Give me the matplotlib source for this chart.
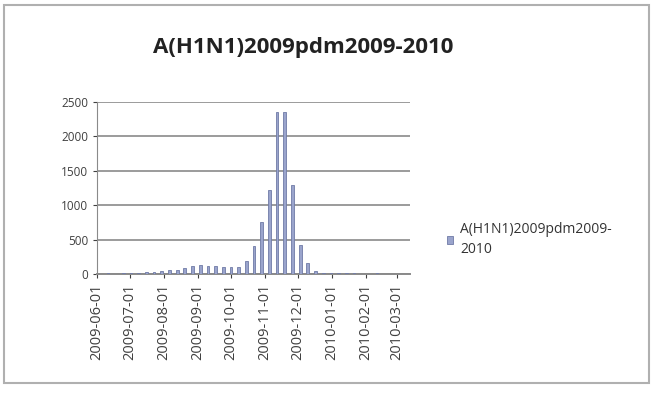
import matplotlib
matplotlib.use('Agg')
import matplotlib.pyplot as plt
import matplotlib.dates as mdates
import pandas as pd

plt.rcParams['font.family'] = ['Open Sans', 'DejaVu Sans']

# weekly counts
weeks = pd.date_range('2009-06-04', periods=41, freq='7D')
cases = [5, 8, 6, 10, 15, 20, 25, 35, 45, 60, 55, 80,
         120, 130, 115, 110, 95, 100, 100, 183, 400, 760, 1220, 2350,
         2350, 1290, 425, 160, 40, 20, 15, 10, 8, 10, 6, 5,
         8, 5, 4, 6, 5]
series_name = 'A(H1N1)2009pdm2009-\n2010'
title = 'A(H1N1)2009pdm2009-2010'
month_ticks = pd.date_range('2009-06-01', '2010-03-01', freq='MS')

fig = plt.figure(figsize=(6.57, 3.96), dpi=100)
ax = fig.add_axes([97/657, 1 - 274/396, 313/657, 172/396])

ax.bar(weeks, cases, width=2.5, color='#9aa4cc', edgecolor='#6f7aa6', linewidth=0.6,
       label=series_name, zorder=3)

ax.set_ylim(0, 2500)
ax.set_yticks([0, 500, 1000, 1500, 2000, 2500])
ax.set_xlim(pd.Timestamp('2009-06-01'), pd.Timestamp('2010-03-13'))
ax.set_xticks(month_ticks)
ax.xaxis.set_major_formatter(mdates.DateFormatter('%Y-%m-%d'))
ax.tick_params(axis='x', rotation=90, labelsize=10.5, colors='#404040', length=3)
ax.tick_params(axis='y', labelsize=8.5, colors='#404040', length=3)
ax.grid(axis='y', color='#8a8a8a', linewidth=1.2, zorder=0)
for s in ['top', 'right']:
    ax.spines[s].set_visible(False)
ax.spines['left'].set_color('#8a8a8a')
ax.spines['bottom'].set_color('#8a8a8a')
ax.spines['bottom'].set_linewidth(1.4)

fig.text(303/657, 1 - 47/396, title, ha='center', va='center', fontsize=16, fontweight='bold',
         color='#222222')

leg = ax.legend(loc='center left', bbox_to_anchor=((434 - 97)/313, 0.2), frameon=False, fontsize=10,
                handlelength=0.5, handleheight=0.5, handletextpad=0.5, labelcolor='#333333')
for t in leg.get_texts():
    t.set_linespacing(1.5)

# chart frame
fig.patches.append(plt.Rectangle((4/657, 1 - 383/396), 645/657, 378/396, transform=fig.transFigure,
                                 fill=False, edgecolor='#b0b0b0', linewidth=1.5))

fig.savefig('out.png', dpi=100)
